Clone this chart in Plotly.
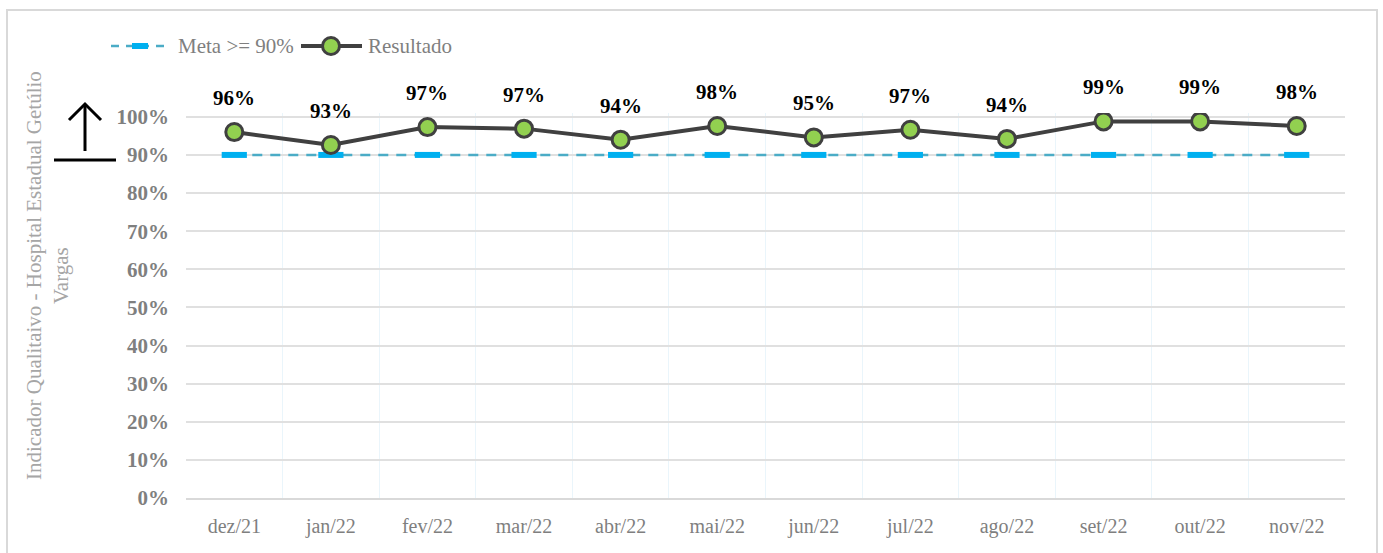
import plotly.graph_objects as go

# Monthly results of the qualitative indicator
months = ["dez/21", "jan/22", "fev/22", "mar/22", "abr/22", "mai/22",
          "jun/22", "jul/22", "ago/22", "set/22", "out/22", "nov/22"]
resultado = [0.960, 0.926, 0.973, 0.969, 0.940, 0.976,
             0.946, 0.966, 0.942, 0.988, 0.988, 0.976]
meta = [0.90] * len(months)
y_ticks = [0.0, 0.1, 0.2, 0.3, 0.4, 0.5, 0.6, 0.7, 0.8, 0.9, 1.0]

WIDTH, HEIGHT = 1383, 553
L, R, T, B = 186, 38, 113, 55
PW = WIDTH - L - R
PH = HEIGHT - T - B


def px_x(px):
    return (px - L) / PW


def px_y(py):
    return (HEIGHT - B - py) / PH


SERIF = "Liberation Serif"
META_LINE, META_MARK = "#4BACC6", "#00B0F0"
RES_LINE, RES_FILL = "#404040", "#92D050"

fig = go.Figure()

fig.add_trace(go.Scatter(
    x=months, y=meta, name="Meta >= 90%", mode="lines+markers",
    line=dict(color=META_LINE, width=2.5, dash="10px,8px"),
    marker=dict(symbol="line-ew", size=18, color=META_MARK,
                line=dict(color=META_MARK, width=6)),
    hoverinfo="skip", showlegend=False,
))

fig.add_trace(go.Scatter(
    x=months, y=resultado, name="Resultado", mode="lines+markers",
    line=dict(color=RES_LINE, width=4),
    marker=dict(symbol="circle", size=17, color=RES_FILL,
                line=dict(color=RES_LINE, width=3)),
    showlegend=False,
))

annotations = []
for m, v in zip(months, resultado):
    annotations.append(dict(
        x=m, y=v, xref="x", yref="y", text=f"{round(v * 100)}%",
        showarrow=False, yanchor="bottom", yshift=20,
        font=dict(family=SERIF, size=21, color="#000000", weight="bold"),
    ))

# Vertical axis caption
annotations.append(dict(
    x=px_x(47), y=px_y(276), xref="paper", yref="paper",
    text="Indicador Qualitaivo - Hospital Estadual Getúlio<br>Vargas",
    textangle=-90, showarrow=False, xanchor="center", yanchor="middle",
    align="center",
    font=dict(family=SERIF, size=21, color="#A6A6A6"),
))

# Legend texts
LEG_Y = 46
legend_font = dict(family=SERIF, size=21, color="#7F7F7F")
annotations.append(dict(x=px_x(176), y=px_y(LEG_Y), xref="paper", yref="paper",
                        text="Meta >= 90%", showarrow=False, xanchor="left",
                        yanchor="middle", font=legend_font))
annotations.append(dict(x=px_x(366), y=px_y(LEG_Y), xref="paper", yref="paper",
                        text="Resultado", showarrow=False, xanchor="left",
                        yanchor="middle", font=legend_font))

shapes = [
    # outer frame
    dict(type="rect", xref="paper", yref="paper",
         x0=px_x(7), x1=px_x(1377), y0=px_y(570), y1=px_y(10),
         line=dict(color="#D9D9D9", width=2), fillcolor="rgba(0,0,0,0)",
         layer="below"),
    # target marker: up arrow over a baseline
    dict(type="path", xref="paper", yref="paper",
         path=f"M {px_x(85)},{px_y(151)} L {px_x(85)},{px_y(104)}",
         line=dict(color="#000000", width=3)),
    dict(type="path", xref="paper", yref="paper",
         path=(f"M {px_x(69)},{px_y(120)} L {px_x(85)},{px_y(104)} "
               f"L {px_x(101)},{px_y(120)}"),
         line=dict(color="#000000", width=3)),
    dict(type="path", xref="paper", yref="paper",
         path=f"M {px_x(54)},{px_y(160)} L {px_x(116)},{px_y(160)}",
         line=dict(color="#000000", width=3)),
    # legend key: Meta
    dict(type="line", xref="paper", yref="paper",
         x0=px_x(111), x1=px_x(168), y0=px_y(LEG_Y), y1=px_y(LEG_Y),
         line=dict(color=META_LINE, width=2.5, dash="8px,7px")),
    dict(type="line", xref="paper", yref="paper",
         x0=px_x(132), x1=px_x(148), y0=px_y(LEG_Y), y1=px_y(LEG_Y),
         line=dict(color=META_MARK, width=6)),
    # legend key: Resultado
    dict(type="line", xref="paper", yref="paper",
         x0=px_x(301), x1=px_x(362), y0=px_y(LEG_Y), y1=px_y(LEG_Y),
         line=dict(color=RES_LINE, width=4)),
    dict(type="circle", xref="paper", yref="paper",
         x0=px_x(322.5), x1=px_x(339.5), y0=px_y(LEG_Y + 8.5),
         y1=px_y(LEG_Y - 8.5),
         fillcolor=RES_FILL, line=dict(color=RES_LINE, width=3)),
]

fig.update_layout(
    width=WIDTH, height=HEIGHT,
    margin=dict(l=L, r=R, t=T, b=B),
    paper_bgcolor="#FFFFFF", plot_bgcolor="#FFFFFF",
    font=dict(family=SERIF, color="#808080"),
    showlegend=False,
    annotations=annotations,
    shapes=shapes,
    xaxis=dict(
        type="category", tickson="boundaries",
        showgrid=True, gridcolor="#EAF5FB", gridwidth=1.2,
        showline=True, linecolor="#D9D9D9", linewidth=2,
        ticks="", ticklabelstandoff=9,
        tickfont=dict(family=SERIF, size=20, color="#7F7F7F"),
        range=[-0.5, 11.5], fixedrange=True,
    ),
    yaxis=dict(
        range=[0, 1.01], tickvals=y_ticks, tickformat=".0%",
        showgrid=True, gridcolor="#E0E0E0", gridwidth=1.5,
        zeroline=False, showline=False, ticks="",
        ticklabelstandoff=16,
        tickfont=dict(family=SERIF, size=21, color="#7F7F7F", weight="bold"),
        fixedrange=True,
    ),
)

fig.write_html("out.html")
